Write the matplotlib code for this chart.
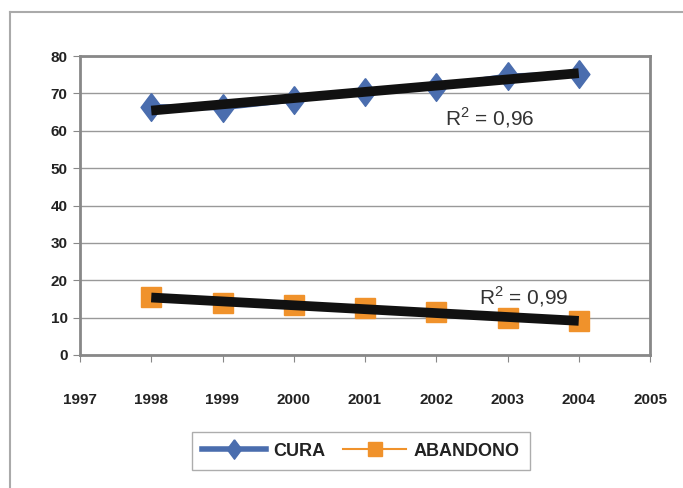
import matplotlib.pyplot as plt
from matplotlib.lines import Line2D
import numpy as np

plt.rcParams['font.family'] = ['Liberation Sans', 'DejaVu Sans']

years = [1998, 1999, 2000, 2001, 2002, 2003, 2004]
cura = [66.4, 66.2, 68.3, 70.3, 71.8, 74.6, 75.2]
abandono = [15.4, 14.0, 13.4, 12.6, 11.4, 10.0, 9.0]
r2_labels = ['R$^{2}$ = 0,96', 'R$^{2}$ = 0,99']

plt.rcParams['mathtext.fontset'] = 'custom'
plt.rcParams['mathtext.rm'] = 'Liberation Sans'

fig = plt.figure(figsize=(6.83, 4.88), dpi=100)
ax = fig.add_axes([80/683, 1-355/488, 570/683, 299/488])

diamond = [(0, 1), (0.75, 0), (0, -1), (-0.75, 0), (0, 1)]

# series
ax.plot(years, cura, color='#4A6DAE', lw=4, marker=diamond, ms=20,
        label='CURA', zorder=3)
ax.plot(years, abandono, color='#F0922B', lw=1.5, marker='s', ms=15,
        label='ABANDONO', zorder=3)

# linear trend lines
x = np.array(years)
for s in (cura, abandono):
    p = np.polyfit(x, s, 1)
    ax.plot(x, np.polyval(p, x), color='#111111', lw=7,
            solid_capstyle='butt', zorder=4)

ax.text(2002.12, 63.5, r2_labels[0], fontsize=15, color='#333333',
        va='center', ha='left', zorder=5)
ax.text(2002.6, 15.6, r2_labels[1], fontsize=15, color='#333333',
        va='center', ha='left', zorder=5)

ax.set_xlim(1997, 2005)
ax.set_ylim(0, 80)
ax.set_xticks(range(1997, 2006))
ax.set_yticks(range(0, 81, 10))
ax.grid(axis='y', color='#999999', lw=1)
ax.set_axisbelow(True)
for sp in ax.spines.values():
    sp.set_color('#888888')
    sp.set_linewidth(2)
ax.tick_params(axis='x', length=5, pad=22, color='#888888', labelsize=11,
               labelcolor='#222222')
ax.tick_params(axis='y', length=5, pad=4, color='#888888', labelsize=11,
               labelcolor='#222222')
for lab in ax.get_xticklabels() + ax.get_yticklabels():
    lab.set_fontweight('bold')

leg = fig.legend(loc='center', bbox_to_anchor=(361/683, 1-451/488), ncol=2,
                 frameon=True, fancybox=False, edgecolor='#999999',
                 prop={'weight': 'bold', 'size': 13}, handlelength=3.5,
                 columnspacing=1.0, handletextpad=0.4, borderpad=0.6,
                 markerscale=0.7)
leg.get_frame().set_linewidth(1)
for t in leg.get_texts():
    t.set_color('#222222')

# outer chart frame
fig.add_artist(Line2D([10/683, 10/683], [0, 1-12/488], color='#AAAAAA', lw=1.5))
fig.add_artist(Line2D([10/683, 1], [1-12/488, 1-12/488], color='#AAAAAA', lw=1.5))

fig.savefig('out.png', dpi=100)
